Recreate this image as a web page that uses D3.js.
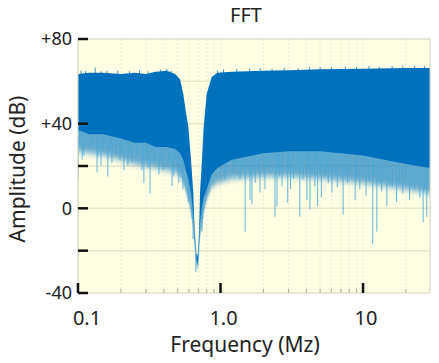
<!DOCTYPE html>
<html lang="en">
<head>
<meta charset="UTF-8">
<title>FFT</title>
<style>
  html, body { margin: 0; background: #fff; }
  text { font-family: 'Noto Sans', sans-serif; fill: #222; }
  .spike { stroke: #4aa8d9; stroke-width: 1; opacity: 0.85; }
</style>
</head>
<body>
<svg width="439" height="363"></svg>
<script src="https://d3js.org/d3.v7.min.js"></script>
<script>

// envelope of the spectrum (MHz, dB)
const freqs  = [0.1, 0.12, 0.15, 0.2, 0.25, 0.3, 0.35, 0.42, 0.48, 0.52, 0.548, 0.57, 0.594, 0.621, 0.644, 0.655, 0.673, 0.685, 0.698, 0.709, 0.718, 0.741, 0.762, 0.8, 0.867, 0.95, 1.2, 2, 3, 5, 10, 20, 29.5];
const topDb  = [63.5, 64, 64, 63.5, 64, 63.5, 64.5, 65, 63.5, 61, 54, 46, 38.7, 23, 7.4, -8, -21, -23, -21, -8, 7.4, 23, 38.7, 54, 62, 64, 64.5, 65, 65.2, 65.7, 66, 66.3, 66.3];
const coreDb = [37, 35, 35, 33, 31, 31, 29, 29, 28, 26, 23, 18, 14, 7, -3, -11, -21, -27, -24, -15, -7, 1, 5, 9, 16, 19, 23, 26, 27, 27, 25, 21, 19];
const fringeDb = [27, 26, 25, 23, 21, 20, 19, 18, 17, 15, 12, 8, 4, -2, -10, -17, -25, -28, -27, -20, -13, -8, -2, 4, 10, 12, 14, 15, 15, 14, 12, 9, 7];

// drops below the band
const spikes = [
  [0.1, 14], [0.103, 30], [0.107, 23], [0.11, 25], [0.115, 31], [0.121, 28], [0.125, 29], [0.13, 32],
  [0.136, 17], [0.138, 24.5], [0.145, 20], [0.15, 27], [0.155, 30], [0.162, 15], [0.168, 28],
  [0.173, 21.6], [0.178, 30], [0.185, 26], [0.19, 29], [0.197, 23], [0.203, 27], [0.21, 18],
  [0.215, 30], [0.224, 20], [0.23, 26], [0.24, 22], [0.25, 28], [0.259, 24.5], [0.265, 27],
  [0.275, 30], [0.281, 18], [0.29, 12], [0.3, 25], [0.31, 19], [0.32, 7], [0.33, 27], [0.34, 22],
  [0.347, 23], [0.36, 26], [0.37, 16], [0.38, 24], [0.395, 18], [0.41, 26], [0.43, 21], [0.44, 24],
  [0.457, 10.5], [0.46, 27], [0.47, 15], [0.485, 23], [0.495, 20], [0.51, 12], [0.52, 22],
  [0.536, 17], [0.545, 9], [0.594, 3], [0.632, -5], [0.642, -14.6], [0.672, -30], [0.742, -11],
  [0.75, -5], [0.844, 13.6], [0.945, 18], [1.0, 19], [1.07, 13.6], [1.1, 18], [1.15, 22],
  [1.22, 17], [1.27, 21], [1.3, 20], [1.37, 13.6], [1.42, 19], [1.49, -11], [1.55, 22], [1.61, 4],
  [1.66, 2], [1.7, 21], [1.75, 12], [1.82, 18], [1.89, 7.5], [1.95, 22], [2.05, 9], [2.12, 20],
  [2.22, 17], [2.3, 23], [2.41, -4], [2.49, 1], [2.55, 19], [2.6, 15], [2.7, 10.4], [2.8, 22],
  [2.96, 2.8], [3.0, 20], [3.1, 9], [3.25, 14], [3.4, 18], [3.5, 21], [3.6, -4], [3.7, 19],
  [3.79, 13.6], [3.9, 23], [4.04, 4], [4.15, 20], [4.24, -0.5], [4.4, 16], [4.59, 10.4], [4.7, 21],
  [4.8, 1], [5.0, 19], [5.1, 5], [5.25, 22], [5.4, 15], [5.55, 18], [5.7, 12], [5.9, 21],
  [6.05, 7.5], [6.3, 17], [6.6, 10], [6.9, 19], [7.25, -3], [7.5, 16], [7.8, 12], [8.2, 18],
  [8.8, 4], [9.0, 14], [9.5, 9], [10, 16], [10.5, 6], [11, 13], [11.7, -17], [12, 15], [12.5, -11],
  [13, 12], [13.5, 8], [14, 14], [14.7, 1], [15.3, 11], [16, 10], [17.2, 3], [18, 12], [19, 7],
  [20, 13], [21.2, 4], [22, 10], [23, 9], [24, 12], [25, 5], [26.4, -6.6], [27, 9], [28, -4], [29, 11]
];

// little hairs above the top edge
const hairs = [
  [0.105, 65], [0.113, 64.8], [0.132, 66.5], [0.145, 64.8], [0.16, 65], [0.19, 65], [0.23, 64.8],
  [0.27, 65.2], [0.31, 64.8], [0.38, 65.6], [0.42, 66], [0.45, 65], [0.95, 65.2], [1.05, 65.6],
  [1.3, 65.8], [1.6, 66], [1.9, 66.3], [2.3, 65.9], [2.8, 66.4], [3.5, 66.2], [4.2, 66.8], [5, 66.7],
  [6, 66.6], [7.5, 67], [9, 66.8], [11, 67.2], [13, 66.9], [16, 67.2], [19, 67.3], [23, 67.4], [27, 67.3]
];

const yTicks = [80, 40, 20, 0, -20, -40];
const yLabels = {80: "+80", 40: "+40", 0: "0", "-40": "-40"};
const yGrid = [60, 40, 20, 0, -20];
const xTicks = [0.1, 1, 10];
const xLabels = ["0.1", "1.0", "10"];

const svg = d3.select("svg");
const pLeft = 78, pRight = 430, pTop = 39, pBottom = 293;

const x = d3.scaleLog().domain([0.1, 29.5]).range([pLeft, pRight]);
const y = d3.scaleLinear().domain([-40, 80]).range([pBottom, pTop]);

const band = freqs.map((f, i) => ({f: f, top: topDb[i], core: coreDb[i], fringe: fringeDb[i]}));
const coreAt = d3.scaleLog().domain(freqs).range(coreDb);
const topAt = d3.scaleLog().domain(freqs).range(topDb);

const defs = svg.append("defs");
defs.append("clipPath").attr("id", "clip").append("rect")
    .attr("x", pLeft).attr("y", pTop)
    .attr("width", pRight - pLeft).attr("height", pBottom - pTop);
defs.append("filter").attr("id", "soft")
    .attr("x", "-5%").attr("y", "-20%").attr("width", "110%").attr("height", "140%")
  .append("feGaussianBlur").attr("stdDeviation", "0 3");

svg.append("rect")
    .attr("x", pLeft).attr("y", pTop)
    .attr("width", pRight - pLeft).attr("height", pBottom - pTop)
    .attr("fill", "#fefee4");

// minor vertical grid
const minor = [];
[0.1, 1, 10].forEach(d => { for (let k = 1; k < 10; k++) if (d * k <= 29.5) minor.push(d * k); });
svg.append("g").selectAll("line").data(minor).join("line")
    .attr("x1", d => x(d)).attr("x2", d => x(d))
    .attr("y1", pTop).attr("y2", pBottom)
    .attr("stroke", "#ebe9d2").attr("stroke-dasharray", "2,2");

svg.append("g").selectAll("line").data(yGrid).join("line")
    .attr("x1", pLeft).attr("x2", pRight)
    .attr("y1", d => y(d)).attr("y2", d => y(d))
    .attr("stroke", "#e9e6cc").attr("stroke-width", 1.5);

// small grey ticks along the bottom
svg.append("g").selectAll("line").data(minor).join("line")
    .attr("x1", d => x(d)).attr("x2", d => x(d))
    .attr("y1", pBottom).attr("y2", pBottom - 4)
    .attr("stroke", "#aaa");

const plot = svg.append("g").attr("clip-path", "url(#clip)");

plot.append("path").datum(band)
    .attr("fill", "#0072bd").attr("opacity", 0.6)
    .attr("filter", "url(#soft)")
    .attr("d", d3.area().x(d => x(d.f)).y0(d => y(d.fringe)).y1(d => y(d.core + 3)));

plot.append("g").selectAll("line").data(spikes).join("line")
    .attr("class", "spike")
    .attr("x1", d => x(d[0])).attr("x2", d => x(d[0]))
    .attr("y1", d => y(Math.min(coreAt(d[0]) + 2, topAt(d[0]) - 1)))
    .attr("y2", d => y(d[1]));

plot.append("path").datum(band)
    .attr("fill", "#0072bd")
    .attr("d", d3.area().x(d => x(d.f)).y0(d => y(d.core)).y1(d => y(d.top)));

plot.append("g").selectAll("line").data(hairs).join("line")
    .attr("x1", d => x(d[0])).attr("x2", d => x(d[0]))
    .attr("y1", d => y(topAt(d[0]) - 1)).attr("y2", d => y(d[1]))
    .attr("stroke", "#0072bd").attr("stroke-width", 1).attr("opacity", 0.75);

// frame
svg.append("rect")
    .attr("x", pLeft).attr("y", pTop)
    .attr("width", pRight - pLeft).attr("height", pBottom - pTop)
    .attr("fill", "none").attr("stroke", "#d0d0c0");

// black ticks inside the frame
svg.append("g").selectAll("line").data(yTicks).join("line")
    .attr("x1", pLeft).attr("x2", pLeft + 10)
    .attr("y1", d => y(d)).attr("y2", d => y(d))
    .attr("stroke", "#111").attr("stroke-width", 2.5);

svg.append("g").selectAll("line").data(xTicks).join("line")
    .attr("x1", d => x(d)).attr("x2", d => x(d))
    .attr("y1", pBottom).attr("y2", pBottom - 10)
    .attr("stroke", "#111").attr("stroke-width", 2.5);

svg.append("g").selectAll("text").data(yTicks.filter(d => yLabels[d] !== undefined)).join("text")
    .attr("x", pLeft - 6).attr("y", d => y(d))
    .attr("dy", "0.36em").attr("text-anchor", "end")
    .attr("font-size", 18)
    .text(d => yLabels[d]);

svg.append("g").selectAll("text").data(xTicks).join("text")
    .attr("x", (d, i) => x(d) + (i === 0 ? 9 : 3))
    .attr("y", 325).attr("text-anchor", "middle")
    .attr("font-size", 20)
    .text((d, i) => xLabels[i]);

svg.append("text")
    .attr("x", 246).attr("y", 22).attr("text-anchor", "middle")
    .attr("font-size", 20).text("FFT");

svg.append("text")
    .attr("x", 245).attr("y", 352).attr("text-anchor", "middle")
    .attr("font-size", 21).text("Frequency (Mz)");

svg.append("text")
    .attr("transform", "translate(25,169) rotate(-90)")
    .attr("text-anchor", "middle")
    .attr("font-size", 21).text("Amplitude (dB)");

</script>
</body>
</html>
